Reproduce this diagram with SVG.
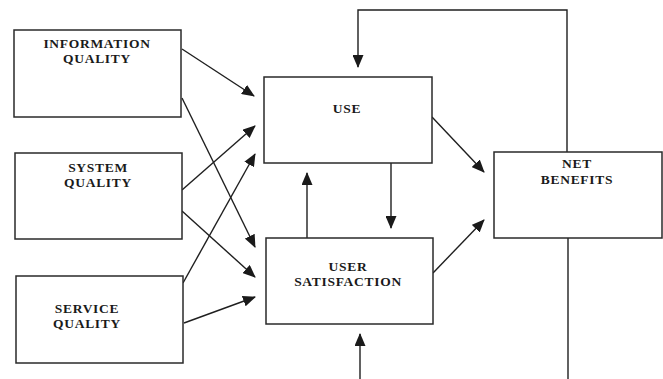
<svg xmlns="http://www.w3.org/2000/svg" width="663" height="379" viewBox="0 0 663 379">
<defs>
<marker id="ah" markerWidth="13" markerHeight="11" refX="12" refY="5.5" orient="auto" markerUnits="userSpaceOnUse">
<path d="M0,0 L13,5.5 L0,11 Z" fill="#1a1a1a"/>
</marker>
<style>
.box{fill:#fff;stroke:#2a2a2a;stroke-width:1.5}
.lbl{font-family:"Liberation Serif","Times New Roman",serif;font-weight:bold;font-size:13.5px;letter-spacing:0.7px;fill:#1a1a1a;text-anchor:middle}
.c{fill:none;stroke:#1f1f1f;stroke-width:1.4}
.a{marker-end:url(#ah)}
</style>
</defs>
<rect width="663" height="379" fill="#fff"/>
<g id="connectors">
<line class="c a" x1="182" y1="49" x2="254" y2="96"/>
<line class="c a" x1="182" y1="98" x2="255" y2="247"/>
<line class="c a" x1="182" y1="190" x2="255" y2="126"/>
<line class="c a" x1="182" y1="211" x2="255" y2="277"/>
<line class="c a" x1="183" y1="283" x2="255" y2="154"/>
<line class="c a" x1="184" y1="323" x2="255" y2="297"/>
<line class="c a" x1="432" y1="117" x2="484" y2="172"/>
<line class="c a" x1="433" y1="273" x2="484" y2="220"/>
<line class="c a" x1="307" y1="238" x2="307" y2="173"/>
<line class="c a" x1="391" y1="163" x2="391" y2="228"/>
<polyline class="c a" points="567,152 567,10 358,10 358,67"/>
<line class="c" x1="568" y1="238" x2="568" y2="379"/>
<line class="c a" x1="360" y1="379" x2="360" y2="334"/>
</g>
<g id="information-quality">
<rect class="box" x="14" y="30" width="167" height="87"/>
<text class="lbl" x="97" y="48">INFORMATION</text>
<text class="lbl" x="97" y="63">QUALITY</text>
</g>
<g id="system-quality">
<rect class="box" x="15" y="153" width="167" height="86"/>
<text class="lbl" x="98" y="172">SYSTEM</text>
<text class="lbl" x="98" y="187">QUALITY</text>
</g>
<g id="service-quality">
<rect class="box" x="16" y="276" width="167" height="87"/>
<text class="lbl" x="87" y="313">SERVICE</text>
<text class="lbl" x="87" y="328">QUALITY</text>
</g>
<g id="use">
<rect class="box" x="264" y="77" width="168" height="86"/>
<text class="lbl" x="347" y="113">USE</text>
</g>
<g id="user-satisfaction">
<rect class="box" x="266" y="238" width="167" height="86"/>
<text class="lbl" x="348" y="271">USER</text>
<text class="lbl" x="348" y="286">SATISFACTION</text>
</g>
<g id="net-benefits">
<rect class="box" x="494" y="152" width="168" height="86"/>
<text class="lbl" x="577" y="168">NET</text>
<text class="lbl" x="577" y="184">BENEFITS</text>
</g>
</svg>
